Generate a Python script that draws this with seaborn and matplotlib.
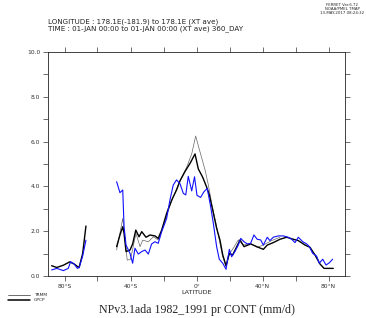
import numpy as np
import pandas as pd
import matplotlib
matplotlib.use('Agg')
import matplotlib.pyplot as plt
import seaborn as sns

# zonal means (lat, mm/d); nan = gap in the data
model_lat = [-87.8, -84.7, -80.7, -77.7, -76.3, -74.2, -72.2, -71.0, -69.0, -67.0, -58.0,
             -48.4, -46.4, -44.7, -43.9, -42.7, -40.3, -38.7, -37.3, -35.3, -33.2, -31.2,
             -29.2, -27.2, -25.2, -23.2, -21.1, -18.1, -16.1, -14.1, -12.1, -10.0, -8.0,
             -6.5, -5.0, -2.9, -1.2, 0.3, 2.5, 4.5, 6.5, 8.6, 10.2, 12.2, 13.8, 15.9, 17.9,
             19.9, 21.3, 23.3, 25.3, 26.8, 28.8, 30.8, 32.8, 34.8, 36.8, 38.9, 40.5, 42.9,
             44.5, 46.5, 49.6, 52.6, 55.6, 57.7, 59.7, 61.7, 64.4, 66.8, 68.4, 70.4, 72.8,
             74.4, 76.5, 78.5, 80.5, 82.5]
model_val = [0.27, 0.34, 0.24, 0.34, 0.64, 0.54, 0.34, 0.40, 0.89, 1.60, np.nan,
             4.21, 3.72, 3.84, 2.20, 1.38, 1.01, 0.57, 1.24, 0.98, 1.09, 1.16,
             0.98, 1.43, 1.53, 1.46, 1.98, 2.57, 3.39, 4.06, 4.29, 4.12, 3.69,
             3.62, 4.45, 3.80, 4.43, 3.60, 3.51, 3.76, 3.91, 3.09, 2.35, 1.31, 0.75, 0.57, 0.30,
             1.19, 0.86, 1.09, 1.38, 1.68, 1.53, 1.43, 1.46, 1.83, 1.64, 1.61, 1.38, 1.73,
             1.58, 1.73, 1.79, 1.79, 1.73, 1.64, 1.49, 1.73, 1.53, 1.43, 1.31, 1.01, 0.89,
             0.57, 0.75, 0.49, 0.59, 0.75]

gpcp_lat = [-87.8, -84.7, -80.7, -76.9, -74.0, -71.2, -69.0, -67.0, -58.0,
            -48.4, -46.4, -44.7, -43.9, -42.7, -40.3, -38.7, -36.8, -34.8, -33.2, -30.6,
            -28.2, -25.2, -23.2, -21.1, -18.1, -15.0, -12.1, -10.0, -7.0, -3.9, -0.9, 1.1,
            3.8, 6.2, 7.8, 9.8, 12.2, 14.2, 15.9, 17.9, 19.9, 21.9, 24.4, 26.4, 28.8, 32.8,
            36.5, 40.5, 42.9, 46.5, 50.6, 54.6, 58.7, 61.7, 65.8, 68.8, 71.8, 74.8, 77.3,
            79.9, 82.9]
gpcp_val = [0.46, 0.38, 0.48, 0.63, 0.53, 0.37, 1.00, 2.23, np.nan,
            1.31, 1.83, 2.20, 1.90, 1.09, 1.16, 1.43, 2.05, 1.75, 1.98, 1.73,
            1.83, 1.79, 1.68, 2.05, 2.80, 3.39, 3.84, 4.25, 4.66, 5.03, 5.45, 4.78,
            4.40, 3.96, 3.62, 2.95, 2.13, 1.61, 0.94, 0.46, 1.01, 0.94, 1.31, 1.61, 1.31, 1.43,
            1.31, 1.19, 1.38, 1.49, 1.64, 1.73, 1.64, 1.58, 1.38, 1.28, 0.94, 0.54, 0.34,
            0.34, 0.34]

trmm_lat = [-48.4, -44.7, -42.0, -40.0, -36.7, -34.2, -32.6, -29.2, -26.2, -23.2, -21.1,
            -17.0, -14.1, -10.0, -6.0, -2.9, -0.5, 2.1, 5.2, 7.2, 9.2, 11.8, 13.8, 15.9,
            17.9, 19.9, 22.3, 25.3, 28.4, 32.8, 36.8, 40.5, 45.5, 50.6]
trmm_val = [1.16, 2.57, 0.71, 0.74, 1.90, 1.31, 1.60, 1.53, 1.75, 1.61, 2.00,
            2.95, 3.54, 4.25, 4.85, 5.45, 6.25, 5.55, 4.73, 4.06, 3.24, 2.35, 1.61, 0.86,
            0.42, 0.98, 1.24, 1.61, 1.38, 1.46, 1.28, 1.38, 1.58, 1.73]

lat_ticks = [-80, -40, 0, 40, 80]
lat_labels = ['80°S', '40°S', '0°', '40°N', '80°N']

sns.set_style('ticks')
plt.rcParams['font.family'] = ['DejaVu Sans']

fig = plt.figure(figsize=(3.66, 3.18), dpi=100)
ax = fig.add_axes([48/366, 42/318, 297/366, 224/318])


def draw(lat, val, color, lw):
    df = pd.DataFrame({'lat': lat, 'val': val})
    df['seg'] = df['val'].isna().cumsum()
    df = df.dropna()
    for s, d in df.groupby('seg'):
        sns.lineplot(data=d, x='lat', y='val', color=color, lw=lw, ax=ax,
                     sort=False, estimator=None)


draw(trmm_lat, trmm_val, '#666666', 0.5)
draw(gpcp_lat, gpcp_val, 'black', 1.0)
draw(model_lat, model_val, '#1010ff', 0.8)

ax.set_xlim(-90, 90)
ax.set_ylim(0, 10)
ax.set_xticks(np.arange(-80, 81, 20))
ax.set_xticklabels([lat_labels[lat_ticks.index(t)] if t in lat_ticks else ''
                    for t in range(-80, 81, 20)])
ax.set_yticks(np.arange(0, 10.1, 2))
ax.set_yticklabels(['%.1f' % v for v in np.arange(0, 10.1, 2)])
ax.set_yticks(np.arange(0, 10.1, 1), minor=True)
ax.tick_params(which='both', direction='out', length=3.5, width=0.5,
               top=True, right=True, labelsize=4.3, colors='#333333', pad=2)
for sp in ax.spines.values():
    sp.set_linewidth(0.6)
    sp.set_color('#222222')
ax.set_xlabel('')
ax.set_ylabel('')

fig.text(197/366, 1 - 293/318, 'LATITUDE', ha='center', va='center', fontsize=4.6, color='#222222')
fig.text(48/366, 1 - 22/318, 'LONGITUDE : 178.1E(-181.9) to 178.1E (XT ave)',
         ha='left', va='center', fontsize=5.1, color='#222222')
fig.text(48/366, 1 - 29/318, 'TIME : 01-JAN 00:00 to 01-JAN 00:00 (XT ave) 360_DAY',
         ha='left', va='center', fontsize=5.1, color='#222222')
fig.text(342/366, 1 - 5/318, 'FERRET Ver.6.72', ha='center', va='center', fontsize=2.8)
fig.text(342/366, 1 - 9/318, 'NOAA/PMEL TMAP', ha='center', va='center', fontsize=2.8)
fig.text(342/366, 1 - 13/318, '13-MAY-2017 08:24:32', ha='center', va='center', fontsize=2.8)

# legend drawn like ferret: line samples bottom left
fig.add_artist(plt.Line2D([8/366, 30/366], [1 - 295/318] * 2, color='#333333', lw=0.5))
fig.add_artist(plt.Line2D([8/366, 30/366], [1 - 299.5/318] * 2, color='black', lw=1.1))
fig.text(34/366, 1 - 295/318, 'TRMM', ha='left', va='center', fontsize=3.2)
fig.text(34/366, 1 - 300/318, 'GPCP', ha='left', va='center', fontsize=3.2)

fig.text(197/366, 1 - 310/318, 'NPv3.1ada 1982_1991 pr CONT (mm/d)', ha='center', va='center',
         fontsize=8.6, family='Liberation Serif')

fig.savefig('out.png', dpi=100)
